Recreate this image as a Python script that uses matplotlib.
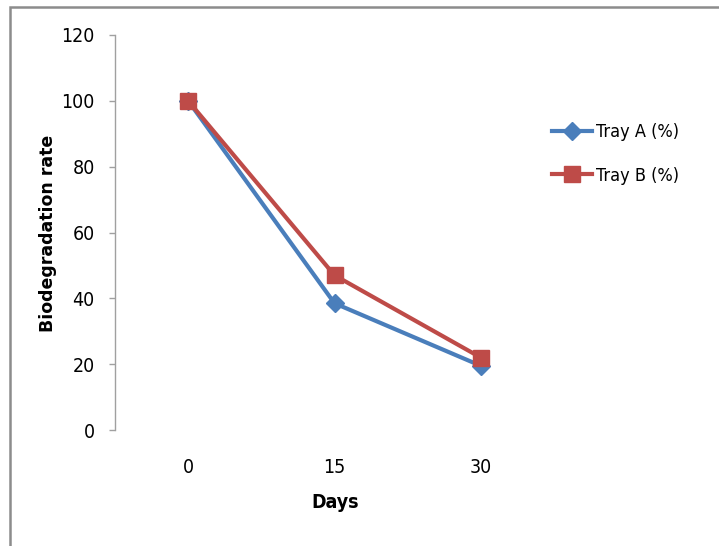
import matplotlib
matplotlib.use('Agg')
import matplotlib.pyplot as plt
from matplotlib.patches import Rectangle

days = ['0', '15', '30']
tray_a = [100, 38.5, 19.5]
tray_b = [100, 47, 22]
yticks = [0, 20, 40, 60, 80, 100, 120]

blue = '#4A7EBB'
red = '#BE4B48'
narrow = {'family': 'DejaVu Sans', 'stretch': 'condensed'}

fig = plt.figure(figsize=(7.19, 5.46), dpi=100)
ax = fig.add_axes([115 / 719, 1 - 430 / 546, 439 / 719, 395 / 546])

x = range(len(days))
ax.plot(x, tray_a, color=blue, lw=3, marker='D', ms=9, label='Tray A (%)')
ax.plot(x, tray_b, color=red, lw=3, marker='s', ms=11.5, label='Tray B (%)')

ax.set_xlim(-0.5, 2.5)
ax.set_ylim(0, 120)
ax.set_xticks(list(x))
ax.set_xticklabels(days, fontsize=14, **narrow)
ax.set_yticks(yticks)
ax.set_yticklabels([str(v) for v in yticks], fontsize=14, **narrow)

for s in ['top', 'right', 'bottom']:
    ax.spines[s].set_visible(False)
ax.spines['left'].set_color('#A0A0A0')
ax.spines['left'].set_linewidth(1)
ax.tick_params(axis='y', length=4, width=1, color='#A0A0A0', pad=10.5)
ax.tick_params(axis='x', length=0, pad=20)

fig.text(48 / 719, 1 - 233 / 546, 'Biodegradation rate', rotation=90,
         ha='center', va='center', fontsize=12.5, fontweight='bold')
fig.text(335 / 719, 1 - 503 / 546, 'Days', ha='center', va='center',
         fontsize=14, fontweight='bold', **narrow)

ax.legend(loc='center left', bbox_to_anchor=(552 / 719, 1 - 154 / 546),
          bbox_transform=fig.transFigure, frameon=False, borderpad=0,
          borderaxespad=0, handlelength=2.2, handletextpad=0.25,
          labelspacing=1.4, prop={'family': 'DejaVu Sans',
                                  'stretch': 'condensed', 'size': 13})

# outer frame of the original chart area (cut off on right and bottom)
fig.patches.append(Rectangle((10 / 719, -0.1), 1.0, 1.1 - 7 / 546,
                             transform=fig.transFigure, fill=False,
                             edgecolor='#8C8C8C', lw=1.8, clip_on=False))

fig.savefig('out.png', dpi=100)
